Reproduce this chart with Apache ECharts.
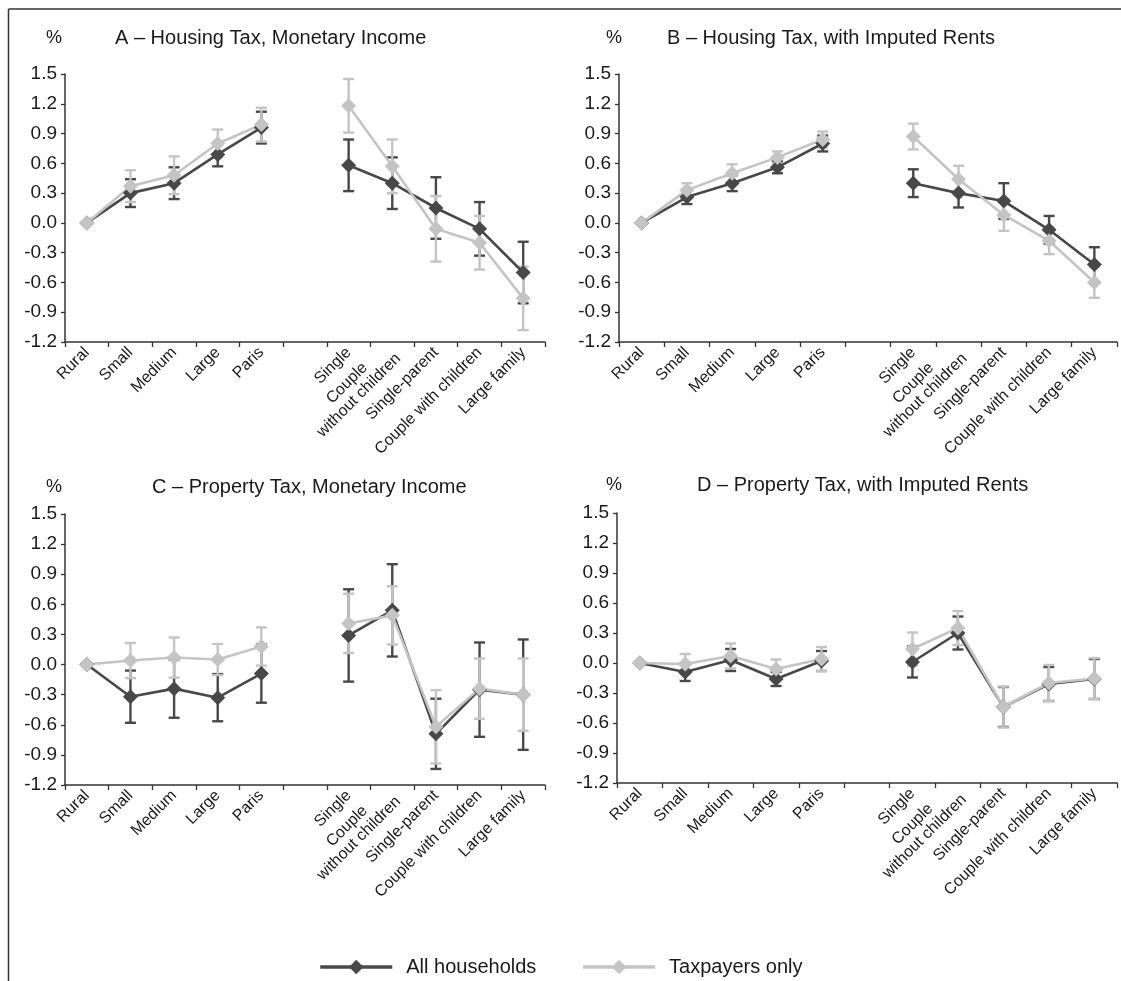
<!DOCTYPE html>
<html>
<head>
<meta charset="utf-8">
<script src="https://cdn.jsdelivr.net/npm/echarts@6/dist/echarts.min.js"></script>
<style>
  html, body { margin: 0; padding: 0; background: #fff; }
  #chart { width: 1121px; height: 981px; }
</style>
</head>
<body>
<div id="chart"></div>
<script>
// Category axis: urban area size, a spacer, then household type
const categories = ['Rural', 'Small', 'Medium', 'Large', 'Paris', '',
  'Single', 'Couple\nwithout children', 'Single-parent', 'Couple with children', 'Large family'];

// Y tick range (percent)
const yMin = -1.2, yMax = 1.5, yStep = 0.3;

// A – Housing Tax, Monetary Income (estimate and half-width of the interval)
const aAll    = [0, 0.30, 0.40, 0.69, 0.96, null, 0.58, 0.40, 0.15, -0.06, -0.50];
const aAllErr = [0, 0.14, 0.16, 0.12, 0.16, null, 0.26, 0.26, 0.31, 0.27, 0.31];
const aTax    = [0, 0.37, 0.48, 0.80, 0.99, null, 1.18, 0.57, -0.06, -0.20, -0.76];
const aTaxErr = [0, 0.16, 0.19, 0.14, 0.17, null, 0.27, 0.27, 0.33, 0.27, 0.32];

// B – Housing Tax, with Imputed Rents
const bAll    = [0, 0.26, 0.40, 0.56, 0.80, null, 0.40, 0.30, 0.22, -0.07, -0.42];
const bAllErr = [0, 0.07, 0.08, 0.06, 0.08, null, 0.14, 0.145, 0.18, 0.14, 0.175];
const bTax    = [0, 0.33, 0.50, 0.66, 0.84, null, 0.87, 0.44, 0.08, -0.18, -0.60];
const bTaxErr = [0, 0.07, 0.09, 0.06, 0.08, null, 0.13, 0.135, 0.16, 0.135, 0.155];

// C – Property Tax, Monetary Income
const cAll    = [0, -0.32, -0.24, -0.33, -0.09, null, 0.29, 0.54, -0.69, -0.25, -0.30];
const cAllErr = [0, 0.26, 0.29, 0.235, 0.29, null, 0.46, 0.46, 0.35, 0.47, 0.55];
const cTax    = [0, 0.04, 0.07, 0.05, 0.18, null, 0.41, 0.49, -0.62, -0.24, -0.30];
const cTaxErr = [0, 0.175, 0.20, 0.155, 0.19, null, 0.295, 0.29, 0.365, 0.30, 0.36];

// D – Property Tax, with Imputed Rents
const dAll    = [0, -0.09, 0.03, -0.16, 0.02, null, 0.01, 0.30, -0.44, -0.21, -0.16];
const dAllErr = [0, 0.09, 0.11, 0.07, 0.10, null, 0.155, 0.165, 0.20, 0.17, 0.20];
const dTax    = [0, -0.01, 0.07, -0.06, 0.04, null, 0.14, 0.35, -0.44, -0.20, -0.155];
const dTaxErr = [0, 0.10, 0.125, 0.095, 0.12, null, 0.165, 0.17, 0.205, 0.18, 0.205];

const FONT = '"Liberation Sans", Arial, Helvetica, sans-serif';
const DARK = '#484848';
const LIGHT = '#c3c4c3';
const TEXT = '#1a1a1a';
const AXIS = '#333333';

const panels = [
  { title: 'A – Housing Tax, Monetary Income', grid: { left: 65, top: 74, width: 480, height: 268 },
    tx: 115, ty: 38, px: 54, all: aAll, allErr: aAllErr, tax: aTax, taxErr: aTaxErr },
  { title: 'B – Housing Tax, with Imputed Rents', grid: { left: 619, top: 74, width: 498, height: 268 },
    tx: 667, ty: 38, px: 614, all: bAll, allErr: bAllErr, tax: bTax, taxErr: bTaxErr },
  { title: 'C – Property Tax, Monetary Income', grid: { left: 65, top: 514, width: 480, height: 271 },
    tx: 152, ty: 487, px: 54, all: cAll, allErr: cAllErr, tax: cTax, taxErr: cTaxErr },
  { title: 'D – Property Tax, with Imputed Rents', grid: { left: 617, top: 513, width: 500, height: 270 },
    tx: 697, ty: 485, px: 614, all: dAll, allErr: dAllErr, tax: dTax, taxErr: dTaxErr }
];

// Interval rows [category index, low, high] for the custom error-bar series
function intervals(vals, errs) {
  const rows = [];
  vals.forEach((v, i) => {
    if (v == null || !errs[i]) return;
    rows.push([i, v - errs[i], v + errs[i]]);
  });
  return rows;
}

function errorBar(color) {
  return function (params, api) {
    const x = api.value(0);
    const lo = api.coord([x, api.value(1)]);
    const hi = api.coord([x, api.value(2)]);
    const half = 5.5;
    const style = { stroke: color, lineWidth: 2.4 };
    return {
      type: 'group',
      children: [
        { type: 'line', shape: { x1: lo[0], y1: lo[1], x2: hi[0], y2: hi[1] }, style },
        { type: 'line', shape: { x1: lo[0] - half, y1: lo[1], x2: lo[0] + half, y2: lo[1] }, style },
        { type: 'line', shape: { x1: hi[0] - half, y1: hi[1], x2: hi[0] + half, y2: hi[1] }, style }
      ]
    };
  };
}

const fmtY = v => (Math.round(v * 10) / 10 + 0).toFixed(1);

const grids = [], xAxes = [], yAxes = [], series = [], graphics = [];

panels.forEach((p, k) => {
  grids.push(Object.assign({ containLabel: false }, p.grid));
  xAxes.push({
    type: 'category', gridIndex: k, data: categories, boundaryGap: true,
    axisLine: { show: true, onZero: false, lineStyle: { color: AXIS, width: 1.5 } },
    axisTick: { show: true, interval: 0, length: 5, lineStyle: { color: AXIS, width: 1.3 } },
    axisLabel: {
      interval: 0, rotate: 45, margin: 8, color: TEXT, fontFamily: FONT, fontSize: 16,
      formatter: v => v.split('\n').map(s => '{c|' + s + '}').join('\n'),
      rich: { c: { align: 'center', fontFamily: FONT, fontSize: 16, color: TEXT, lineHeight: 17 } }
    },
    splitLine: { show: false }
  });
  yAxes.push({
    type: 'value', gridIndex: k, min: yMin, max: yMax, interval: yStep,
    axisLine: { show: true, lineStyle: { color: AXIS, width: 1.5 } },
    axisTick: { show: true, length: 4, lineStyle: { color: AXIS, width: 1.3 } },
    axisLabel: { margin: 8, color: TEXT, fontFamily: FONT, fontSize: 19, formatter: fmtY },
    splitLine: { show: false }
  });

  series.push({
    name: 'errAll', type: 'custom', xAxisIndex: k, yAxisIndex: k,
    data: intervals(p.all, p.allErr), renderItem: errorBar(DARK),
    encode: { x: 0, y: [1, 2] }, silent: true
  });
  series.push({
    name: 'All households', type: 'line', xAxisIndex: k, yAxisIndex: k,
    data: p.all, connectNulls: false, symbol: 'diamond', symbolSize: 15,
    itemStyle: { color: DARK }, lineStyle: { color: DARK, width: 2.6 }, animation: false
  });
  series.push({
    name: 'errTax', type: 'custom', xAxisIndex: k, yAxisIndex: k,
    data: intervals(p.tax, p.taxErr), renderItem: errorBar(LIGHT),
    encode: { x: 0, y: [1, 2] }, silent: true
  });
  series.push({
    name: 'Taxpayers only', type: 'line', xAxisIndex: k, yAxisIndex: k,
    data: p.tax, connectNulls: false, symbol: 'diamond', symbolSize: 15,
    itemStyle: { color: LIGHT }, lineStyle: { color: LIGHT, width: 2.6 }, animation: false
  });

  graphics.push({
    type: 'text', x: p.tx, y: p.ty,
    style: { text: p.title, fontFamily: FONT, fontSize: 20, fill: TEXT, align: 'left', verticalAlign: 'middle' }
  });
  graphics.push({
    type: 'text', x: p.px, y: p.ty,
    style: { text: '%', fontFamily: FONT, fontSize: 18, fill: TEXT, align: 'center', verticalAlign: 'middle' }
  });
});

// Outer frame (top and left edges)
graphics.push({ type: 'line', shape: { x1: 8.5, y1: 9, x2: 1125, y2: 9 }, style: { stroke: AXIS, lineWidth: 1.5 } });
graphics.push({ type: 'line', shape: { x1: 8.5, y1: 9, x2: 8.5, y2: 990 }, style: { stroke: AXIS, lineWidth: 1.5 } });

const chart = echarts.init(document.getElementById('chart'), null, { renderer: 'canvas' });
chart.setOption({
  animation: false,
  backgroundColor: '#ffffff',
  grid: grids,
  xAxis: xAxes,
  yAxis: yAxes,
  series: series,
  legend: {
    data: ['All households', 'Taxpayers only'],
    left: 'center', top: 952,
    itemWidth: 72, itemHeight: 18, itemGap: 45,
    textStyle: { fontFamily: FONT, fontSize: 20, color: TEXT, padding: [0, 0, 0, 9] },
    lineStyle: { width: 3.5 }
  },
  graphic: graphics
});
</script>
</body>
</html>
